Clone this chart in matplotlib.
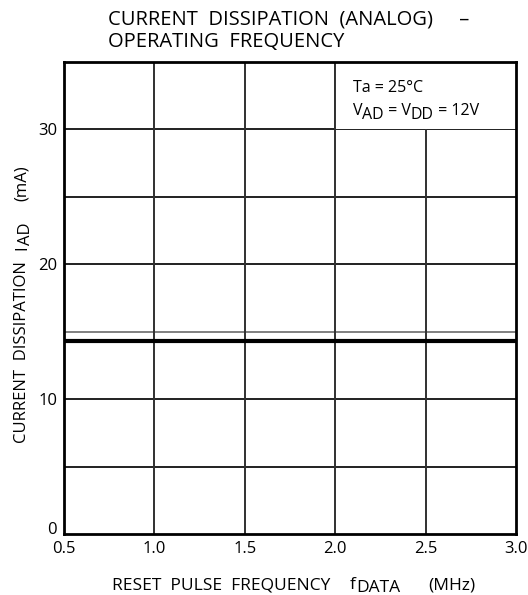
#!/usr/bin/env python3
"""
Current dissipation (analog) vs operating frequency
"""

import matplotlib.pyplot as plt
from matplotlib.patches import Rectangle

# data
freq_mhz = [0.5, 3.0]
current_ma = [14.3, 14.3]
x_ticks = [0.5, 1.0, 1.5, 2.0, 2.5, 3.0]
x_tick_labels = ['0.5', '1.0', '1.5', '2.0', '2.5', '3.0']
y_ticks = [0, 10, 20, 30]
y_grid = [5, 10, 15, 20, 25, 30]
x_grid = [1.0, 1.5, 2.0, 2.5]

W, H = 528, 595


def run_text(fig, x, y, parts, size, vertical=False):
    """Draw text pieces one after another; parts = [(text, drop_px)].
    x, y in pixels from the top-left corner; subscripts stay full size."""
    renderer = fig.canvas.get_renderer()
    for txt, drop in parts:
        if vertical:
            t = fig.text((x + drop) / W, 1 - y / H, txt, fontsize=size,
                         rotation=90, rotation_mode='anchor',
                         ha='left', va='baseline')
            y -= t.get_window_extent(renderer).height
        else:
            t = fig.text(x / W, 1 - (y + drop) / H, txt, fontsize=size,
                         ha='left', va='baseline')
            x += t.get_window_extent(renderer).width
    return x, y


def plot_current_dissipation():
    plt.rcParams['font.family'] = ['Open Sans', 'DejaVu Sans']

    fig = plt.figure(figsize=(W / 100, H / 100), dpi=100)
    ax = fig.add_axes([64 / W, 61 / H, 452 / W, 472 / H])

    # grid
    for yv in y_grid:
        c = '#808080' if yv == 15 else '#202020'
        ax.axhline(yv, color=c, linewidth=1.4, zorder=1)
    for xv in x_grid:
        ax.axvline(xv, color='#303030', linewidth=1.4, zorder=1)

    # white box behind the conditions text
    ax.add_patch(Rectangle((2.0, 30), 1.0, 5, facecolor='white',
                           edgecolor='none', zorder=2))
    ax.plot([2.0, 2.0], [30, 35], color='#303030', linewidth=1.4, zorder=3)

    ax.plot(freq_mhz, current_ma, color='black', linewidth=3, zorder=4)

    ax.set_xlim(0.5, 3.0)
    ax.set_ylim(0, 35)
    ax.set_xticks(x_ticks)
    ax.set_xticklabels(x_tick_labels)
    ax.set_yticks(y_ticks)
    ax.tick_params(length=0, labelsize=12)
    ax.tick_params(axis='x', pad=5)
    ax.tick_params(axis='y', pad=5)
    ax.get_yticklabels()[0].set_verticalalignment('baseline')
    for s in ax.spines.values():
        s.set_linewidth(2)
        s.set_zorder(5)

    # title
    fig.text(108 / W, 1 - 24 / H, 'CURRENT  DISSIPATION  (ANALOG)     –',
             fontsize=14.5, va='baseline', ha='left')
    fig.text(108 / W, 1 - 47 / H, 'OPERATING  FREQUENCY',
             fontsize=14.5, va='baseline', ha='left')

    # conditions
    run_text(fig, 353, 92, [('Ta = 25°C', 0)], 11.5)
    run_text(fig, 353, 115, [('V', 0), ('AD', 4), (' = V', 0), ('DD', 4),
                             (' = 12V', 0)], 11.5)

    # x label
    run_text(fig, 112, 589, [('RESET  PULSE  FREQUENCY', 0)], 12.5)
    run_text(fig, 350, 589, [('f', 0), ('DATA', 3)], 12.5)
    run_text(fig, 428, 589, [('(MHz)', 0)], 12.5)

    # y label
    run_text(fig, 26, 443, [('CURRENT  DISSIPATION', 0)], 12, vertical=True)
    run_text(fig, 26, 250, [('I', 0), ('AD', 4)], 12, vertical=True)
    run_text(fig, 26, 201, [('(mA)', 0)], 12, vertical=True)

    fig.savefig('out.png', dpi=100)
    return fig


if __name__ == "__main__":
    plot_current_dissipation()
